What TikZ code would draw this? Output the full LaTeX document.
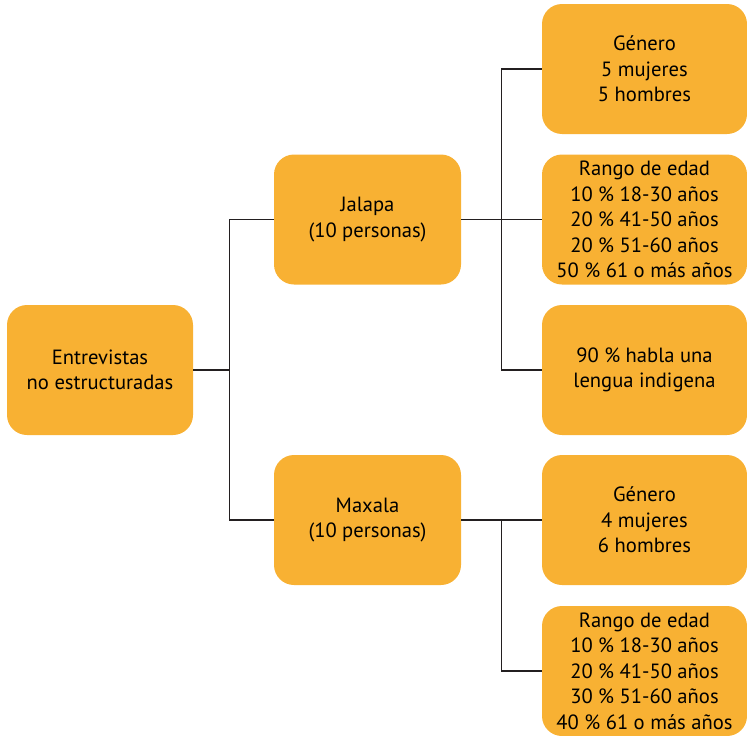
\documentclass[tikz,border=0pt]{standalone}
\usepackage{fontspec}
\setmainfont{PT Sans}
\definecolor{boxorange}{HTML}{F8B133}
\definecolor{linegray}{HTML}{231F20}
\begin{document}
\begin{tikzpicture}[x=1pt,y=-1pt,
  box/.style={rectangle, rounded corners=20pt, fill=boxorange, draw=none,
    align=center, inner sep=0pt, font=\fontsize{20.6}{25.5}\selectfont},
  leftbox/.style={box, minimum width=186pt, minimum height=130pt},
  midbox/.style={box, minimum width=187pt, minimum height=130pt},
  rightbox/.style={box, minimum width=205pt, minimum height=130pt},
  conn/.style={draw=linegray, line width=1.2pt}]
\useasboundingbox (0,0) rectangle (747,736);
\node[leftbox] (e) at (100,370) {Entrevistas\\no estructuradas};
\node[midbox] (j) at (367.5,219.5) {Jalapa\\(10 personas)};
\node[midbox] (m) at (367.5,520) {Maxala\\(10 personas)};
\node[rightbox] (g1) at (644.5,69) {Género\\5 mujeres\\5 hombres};
\node[rightbox] (r1) at (644.5,219.5) {Rango de edad\\10 \% 18-30 años\\20 \% 41-50 años\\20 \% 51-60 años\\50 \% 61 o más años};
\node[rightbox] (l) at (644.5,370) {90 \% habla una\\lengua indigena};
\node[rightbox] (g2) at (644.5,520) {Género\\4 mujeres\\6 hombres};
\node[rightbox] (r2) at (644.5,671) {Rango de edad\\10 \% 18-30 años\\20 \% 41-50 años\\30 \% 51-60 años\\40 \% 61 o más años};
\draw[conn] (e.east) -- ++(36,0) coordinate (eb);
\draw[conn] (eb) |- (j.west);
\draw[conn] (eb) |- (m.west);
\draw[conn] (j.east) -- (r1.west);
\path (j.east) ++(40,0) coordinate (jb);
\draw[conn] (jb) |- (g1.west);
\draw[conn] (jb) |- (l.west);
\draw[conn] (m.east) -- (g2.west);
\path (m.east) ++(40,0) coordinate (mb);
\draw[conn] (mb) |- (r2.west);
\end{tikzpicture}
\end{document}
